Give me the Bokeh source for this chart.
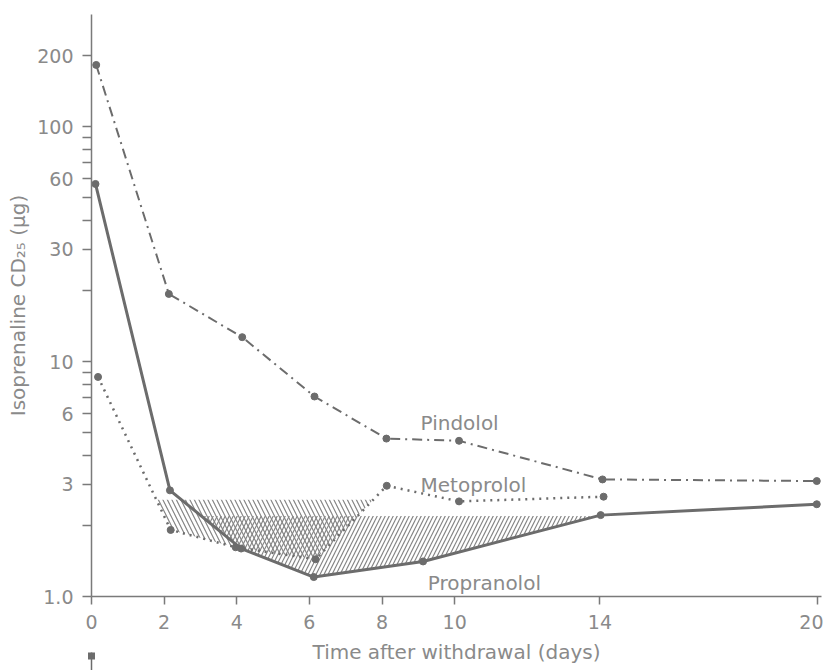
import math
from bokeh.plotting import figure
from bokeh.models import FixedTicker, Arrow, NormalHead
from bokeh.core.properties import value
from bokeh.embed import file_html
from bokeh.resources import INLINE

# ---- data ----
pindolol_days = [0.13, 2.13, 4.15, 6.14, 8.12, 10.12, 14.07, 19.97]
pindolol_cd25 = [183, 19.4, 12.7, 7.1, 4.7, 4.6, 3.15, 3.1]

metoprolol_days = [0.18, 2.18, 3.97, 6.17, 8.13, 10.12, 14.1]
metoprolol_cd25 = [8.6, 1.92, 1.62, 1.44, 2.96, 2.54, 2.66]

propranolol_days = [0.11, 2.16, 4.12, 6.12, 9.13, 14.02, 19.97]
propranolol_cd25 = [57, 2.83, 1.60, 1.21, 1.41, 2.22, 2.47]

metoprolol_band_top = 2.58
propranolol_band_top = 2.2

x_ticks = [0, 2, 4, 6, 8, 10, 14, 20]
y_ticks = [1, 3, 6, 10, 30, 60, 100, 200]
y_tick_labels = ["1.0", "3", "6", "10", "30", "60", "100", "200"]
y_minor_ticks = [2, 4, 5, 7, 8, 9, 20, 40, 50, 70, 80, 90]

series_names = ["Pindolol", "Metoprolol", "Propranolol"]
name_days = [9.06, 9.06, 9.26]
name_cd25 = [5.46, 2.97, 1.136]

withdrawal_day = 0

LINE = "#6c6c6c"
TEXT = "#8a8a8a"
AXIS = "#7a7a7a"
HATCH = "#858585"
FONT = "DejaVu Sans"


def first_band_below(xs, ys, top):
    """Polygon between a (log-straight) polyline and a level, first run below it."""
    lt = math.log10(top)
    lv = [math.log10(v) - lt for v in ys]
    px, py = [], []
    inside = False
    for i in range(len(xs)):
        if i > 0 and (lv[i - 1] > 0) != (lv[i] > 0):
            f = lv[i - 1] / (lv[i - 1] - lv[i])
            px.append(xs[i - 1] + f * (xs[i] - xs[i - 1]))
            py.append(top)
            if inside:
                break
            inside = True
        if inside and lv[i] <= 0:
            px.append(xs[i])
            py.append(ys[i])
    return px, py


p = figure(width=823, height=670, x_range=(0, 20.1), y_range=(1, 300),
           y_axis_type="log", output_backend="svg", toolbar_location=None,
           min_border_left=91, min_border_right=2, min_border_top=14,
           min_border_bottom=74)
p.outline_line_color = None
p.grid.visible = False
p.background_fill_color = "white"
p.border_fill_color = "white"

# hatched bands
mx, my = first_band_below(metoprolol_days, metoprolol_cd25, metoprolol_band_top)
p.patch(mx, my, fill_color=None, line_color=None, hatch_pattern="\\",
        hatch_color=HATCH, hatch_scale=9, hatch_weight=1.2)
rx, ry = first_band_below(propranolol_days, propranolol_cd25, propranolol_band_top)
p.patch(rx, ry, fill_color=None, line_color=None, hatch_pattern="/",
        hatch_color=HATCH, hatch_scale=8, hatch_weight=1.2)

# series
p.line(pindolol_days, pindolol_cd25, line_color=LINE, line_width=2, line_dash="10 5 2 5")
p.scatter(pindolol_days, pindolol_cd25, size=7, color=LINE)
p.line(metoprolol_days, metoprolol_cd25, line_color=LINE, line_width=2.5, line_dash="2 5")
p.scatter(metoprolol_days, metoprolol_cd25, size=7, color=LINE)
p.line(propranolol_days, propranolol_cd25, line_color=LINE, line_width=3)
p.scatter(propranolol_days, propranolol_cd25, size=7, color=LINE)

p.text(x=name_days, y=name_cd25, text=series_names, text_font=value(FONT),
       text_font_size="20px", text_color=TEXT, text_align="left",
       text_baseline="alphabetic")

# axes
for ax in (p.xaxis[0], p.yaxis[0]):
    ax.axis_line_color = AXIS
    ax.axis_line_width = 1.5
    ax.major_tick_line_color = AXIS
    ax.major_tick_line_width = 1.5
    ax.major_tick_in = 0
    ax.major_label_text_font = FONT
    ax.major_label_text_font_size = "19px"
    ax.major_label_text_color = TEXT
    ax.axis_label_text_font = FONT
    ax.axis_label_text_font_size = "20px"
    ax.axis_label_text_font_style = "normal"
    ax.axis_label_text_color = TEXT

p.xaxis.ticker = FixedTicker(ticks=x_ticks)
p.xaxis.major_tick_out = 8
p.xaxis.major_label_standoff = 10
p.xaxis.minor_tick_line_color = None
p.xaxis.axis_label = "Time after withdrawal (days)"
p.xaxis.axis_label_standoff = 8

p.yaxis.ticker = FixedTicker(ticks=y_ticks, minor_ticks=y_minor_ticks)
p.yaxis.major_label_overrides = dict(zip(y_ticks, y_tick_labels))
p.yaxis.major_tick_out = 9
p.yaxis.major_label_standoff = 9
p.yaxis.minor_tick_in = 0
p.yaxis.minor_tick_out = 9
p.yaxis.minor_tick_line_color = AXIS
p.yaxis.minor_tick_line_width = 1.5
p.yaxis.axis_label = "Isoprenaline CD\u2082\u2085 (μg)"
p.yaxis.axis_label_standoff = 4

# withdrawal arrow below the day-0 tick.  Outside the frame an arrow body only
# shows inside its head's outline, so a wide invisible head carries the shaft
# and a thick short body inside a small head forms the arrow tip.
p.add_layout(Arrow(end=NormalHead(size=22, fill_alpha=0, line_alpha=0),
                   x_start=withdrawal_day, y_start=0.47,
                   x_end=withdrawal_day, y_end=0.578,
                   line_color=LINE, line_width=1.5))
p.add_layout(Arrow(end=NormalHead(size=7, fill_color=LINE, line_color=LINE, line_width=1),
                   x_start=withdrawal_day, y_start=0.50,
                   x_end=withdrawal_day, y_end=0.578,
                   line_color=LINE, line_width=7))

open("out.html", "w").write(file_html(p, INLINE))
